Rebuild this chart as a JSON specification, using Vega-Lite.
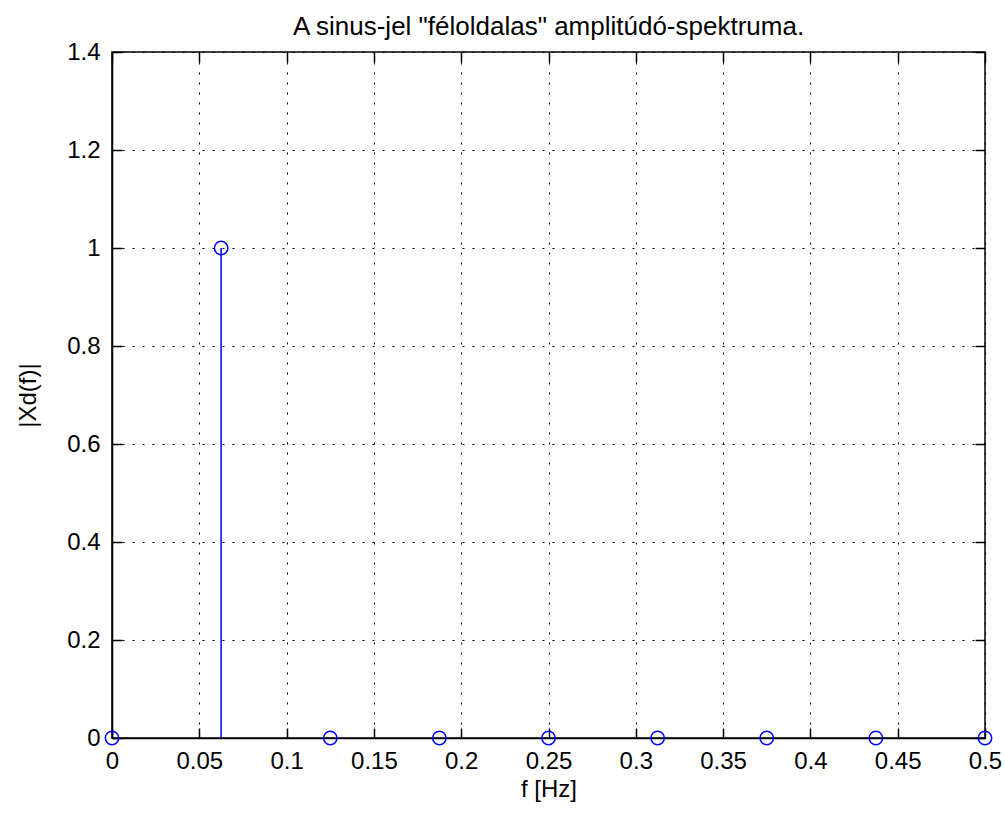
{
  "$schema": "https://vega.github.io/schema/vega-lite/v6.json",
  "width": 873,
  "height": 686,
  "autosize": {"type": "none"},
  "padding": {"left": 112, "top": 52, "right": 20, "bottom": 77},
  "background": "white",
  "title": {
    "text": "A sinus-jel \"féloldalas\" amplitúdó-spektruma.",
    "font": "Liberation Sans",
    "fontSize": 26,
    "fontWeight": "normal",
    "color": "black",
    "anchor": "middle",
    "offset": 0
  },
  "config": {
    "view": {"stroke": "black", "strokeWidth": 1.5},
    "axis": {
      "labelFont": "Liberation Sans",
      "labelFontSize": 24,
      "labelColor": "black",
      "titleFont": "Liberation Sans",
      "titleFontSize": 24,
      "titleFontWeight": "normal",
      "titleColor": "black",
      "domainColor": "black",
      "domainWidth": 1.5,
      "tickColor": "black",
      "tickWidth": 1.5,
      "gridColor": "black",
      "gridOpacity": 1,
      "gridWidth": 1,
      "gridDash": [2, 8]
    }
  },
  "data": {
    "values": [
      {"f": 0, "amp": 0},
      {"f": 0.0625, "amp": 1},
      {"f": 0.125, "amp": 0},
      {"f": 0.1875, "amp": 0},
      {"f": 0.25, "amp": 0},
      {"f": 0.3125, "amp": 0},
      {"f": 0.375, "amp": 0},
      {"f": 0.4375, "amp": 0},
      {"f": 0.5, "amp": 0}
    ]
  },
  "resolve": {"axis": {"x": "independent", "y": "independent"}},
  "layer": [
    {
      "mark": {"type": "rule", "color": "#0000ff", "strokeWidth": 1.5, "clip": false},
      "encoding": {
        "x": {
          "field": "f",
          "type": "quantitative",
          "scale": {"domain": [0, 0.5], "nice": false, "zero": false},
          "axis": {
            "title": "f [Hz]",
            "values": [0, 0.05, 0.1, 0.15, 0.2, 0.25, 0.3, 0.35, 0.4, 0.45, 0.5],
            "format": "~g",
            "tickSize": -10,
            "labelPadding": 21,
            "titlePadding": 4,
            "grid": true,
            "labelFlush": false,
            "labelOverlap": false
          }
        },
        "y": {
          "field": "amp",
          "type": "quantitative",
          "scale": {"domain": [0, 1.4], "nice": false},
          "axis": {
            "title": "|Xd(f)|",
            "values": [0, 0.2, 0.4, 0.6, 0.8, 1, 1.2, 1.4],
            "format": "~g",
            "tickSize": -10,
            "labelPadding": 22,
            "titlePadding": 26,
            "grid": true,
            "labelFlush": false,
            "labelOverlap": false
          }
        },
        "y2": {"datum": 0}
      }
    },
    {
      "mark": {"type": "point", "shape": "circle", "filled": false, "color": "#0000ff", "strokeWidth": 1.5, "size": 180, "opacity": 1, "clip": false},
      "encoding": {
        "x": {
          "field": "f",
          "type": "quantitative",
          "axis": {
            "orient": "top",
            "title": null,
            "values": [0, 0.05, 0.1, 0.15, 0.2, 0.25, 0.3, 0.35, 0.4, 0.45, 0.5],
            "labels": false,
            "domain": false,
            "grid": false,
            "tickSize": -10
          }
        },
        "y": {
          "field": "amp",
          "type": "quantitative",
          "axis": {
            "orient": "right",
            "title": null,
            "values": [0, 0.2, 0.4, 0.6, 0.8, 1, 1.2, 1.4],
            "labels": false,
            "domain": false,
            "grid": false,
            "tickSize": -10
          }
        }
      }
    }
  ]
}
